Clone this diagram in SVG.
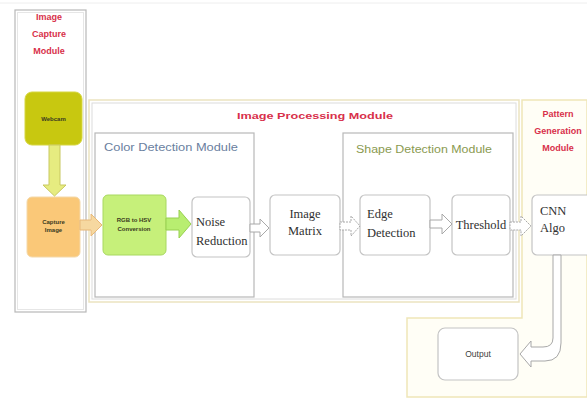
<svg xmlns="http://www.w3.org/2000/svg" width="587" height="398" viewBox="0 0 587 398">
  <style>
    .module { fill: none; stroke: #b8b8b8; stroke-width: 1.2; }
    .mtitle { font-family: "Liberation Sans", Arial, sans-serif; font-weight: bold; font-size: 9px; }
    .red { fill: #d8304a; }
    .node { fill: #ffffff; stroke: #c4c4c4; stroke-width: 1.2; }
    .ntext { font-family: "Liberation Serif", "Times New Roman", serif; font-size: 12.5px; fill: #303030; }
    .stext { font-family: "Liberation Sans", Arial, sans-serif; font-size: 6px; font-weight: bold; fill: #3a3a20; }
    .warrow { fill: #ffffff; stroke: #a8a8a8; stroke-width: 1; }
  </style>

  <rect x="0" y="0" width="587" height="398" fill="#ffffff"/>
  <line x1="0" y1="3" x2="587" y2="3" stroke="#eeeeee" stroke-width="1"/>

  <!-- Pattern Generation Module (L-shaped region) -->
  <g id="pattern-module">
    <path d="M522,100 H587 V397 H407 V318 H522 Z" fill="#fffef6" stroke="#efe6b8" stroke-width="1.5"/>
    <text class="mtitle red" text-anchor="middle" x="558" y="117">Pattern</text>
    <text class="mtitle red" text-anchor="middle" x="558" y="134">Generation</text>
    <text class="mtitle red" text-anchor="middle" x="558" y="151">Module</text>
  </g>

  <!-- Image Capture Module -->
  <g id="capture-module">
    <rect x="15" y="10" width="71" height="302" class="module"/>
    <rect x="17.5" y="12.5" width="66" height="297" fill="none" stroke="#e6e6e6" stroke-width="1"/>
    <text class="mtitle red" text-anchor="middle" x="49" y="20">Image</text>
    <text class="mtitle red" text-anchor="middle" x="49" y="37">Capture</text>
    <text class="mtitle red" text-anchor="middle" x="49" y="54">Module</text>
  </g>

  <!-- Image Processing Module -->
  <g id="processing-module">
    <rect x="89" y="100" width="430" height="202" fill="none" stroke="#ebe3c0" stroke-width="1.5"/>
    <rect x="92" y="103" width="424" height="196" fill="none" stroke="#dcdcdc" stroke-width="1"/>
    <text class="mtitle red" x="237" y="119" font-size="12" textLength="156" lengthAdjust="spacingAndGlyphs">Image Processing Module</text>
  </g>

  <!-- Color Detection Module -->
  <g id="color-module">
    <rect x="95" y="133" width="159" height="164" class="module"/>
    <text x="104" y="151" font-family="Liberation Sans, Arial, sans-serif" font-size="10.5" fill="#6a80a0" textLength="134" lengthAdjust="spacingAndGlyphs">Color Detection  Module</text>
  </g>

  <!-- Shape Detection Module -->
  <g id="shape-module">
    <rect x="343" y="133" width="170" height="164" class="module"/>
    <text x="356" y="153" font-family="Liberation Sans, Arial, sans-serif" font-size="10" fill="#8a9a50" textLength="136" lengthAdjust="spacingAndGlyphs">Shape Detection Module</text>
  </g>

  <!-- Webcam -->
  <g id="webcam">
    <rect x="25" y="92" width="57" height="53" rx="7" fill="#c8c810" stroke="#d6d640" stroke-width="1"/>
    <text class="stext" text-anchor="middle" x="53.5" y="121">Webcam</text>
  </g>

  <!-- Capture Image -->
  <g id="capture-image">
    <rect x="27" y="197" width="53" height="60" rx="5" fill="#fac878" stroke="#f4d8a8" stroke-width="1"/>
    <text class="stext" text-anchor="middle" x="53.5" y="224">Capture</text>
    <text class="stext" text-anchor="middle" x="53.5" y="232">Image</text>
  </g>

  <!-- RGB to HSV Conversion -->
  <g id="rgb-hsv">
    <rect x="103" y="195" width="63" height="60" rx="5" fill="#c6f07a" stroke="#a8d860" stroke-width="1"/>
    <text class="stext" text-anchor="middle" x="134" y="222" font-size="6.5">RGB to HSV</text>
    <text class="stext" text-anchor="middle" x="134" y="231" font-size="6.5">Conversion</text>
  </g>

  <!-- Noise Reduction -->
  <g id="noise-reduction">
    <rect x="192" y="197" width="58" height="60" rx="5" class="node"/>
    <text class="ntext" x="196" y="226">Noise</text>
    <text class="ntext" x="196" y="245">Reduction</text>
  </g>

  <!-- Image Matrix -->
  <g id="image-matrix">
    <rect x="270" y="195" width="70" height="60" rx="5" class="node"/>
    <text class="ntext" text-anchor="middle" x="305" y="218">Image</text>
    <text class="ntext" text-anchor="middle" x="305" y="235">Matrix</text>
  </g>

  <!-- Edge Detection -->
  <g id="edge-detection">
    <rect x="360" y="195" width="70" height="60" rx="5" class="node"/>
    <text class="ntext" x="367" y="218">Edge</text>
    <text class="ntext" x="367" y="237">Detection</text>
  </g>

  <!-- Threshold -->
  <g id="threshold">
    <rect x="452" y="195" width="58" height="60" rx="5" class="node"/>
    <text class="ntext" text-anchor="middle" x="481" y="229">Threshold</text>
  </g>

  <!-- CNN Algo -->
  <g id="cnn-algo">
    <rect x="532" y="195" width="60" height="60" rx="5" class="node"/>
    <text class="ntext" x="540" y="215">CNN</text>
    <text class="ntext" x="540" y="232">Algo</text>
  </g>

  <!-- Output -->
  <g id="output">
    <rect x="438" y="328" width="80" height="52" rx="7" class="node"/>
    <text font-family="Liberation Sans, Arial, sans-serif" font-size="8.5" fill="#404040" text-anchor="middle" x="478" y="357">Output</text>
  </g>

  <!-- Connectors: block arrows -->
  <g id="connectors">
    <polygon points="49,145 60,145 60,185 66,185 54.5,196 43,185 49,185" fill="#e6ec80" stroke="#c8c860" stroke-width="1"/>
    <polygon points="80,220 91,220 91,214 102,225 91,236 91,230 80,230" fill="#f6d8a0" stroke="#e8b878" stroke-width="1"/>
    <polygon points="166,218 179,218 179,210 191,224 179,238 179,230 166,230" fill="#b8ee70" stroke="#98d050" stroke-width="1"/>
    <polygon points="250,224 260,224 260,219 269,228 260,237 260,232 250,232" class="warrow"/>
    <polygon points="340,222 351,222 351,216 360,226 351,236 351,230 340,230" class="warrow" stroke-dasharray="2 1"/>
    <polygon points="430,220 442,220 442,214 452,224 442,234 442,228 430,228" class="warrow"/>
    <polygon points="510,222 521,222 521,216 531,226 521,236 521,230 510,230" class="warrow" stroke-dasharray="2 1"/>
    <path d="M553,255 V338 Q553,347 543,347 H531 V341 L520,354 L531,367 V361 H545 Q561,361 561,343 V255 Z" class="warrow"/>
  </g>
</svg>
